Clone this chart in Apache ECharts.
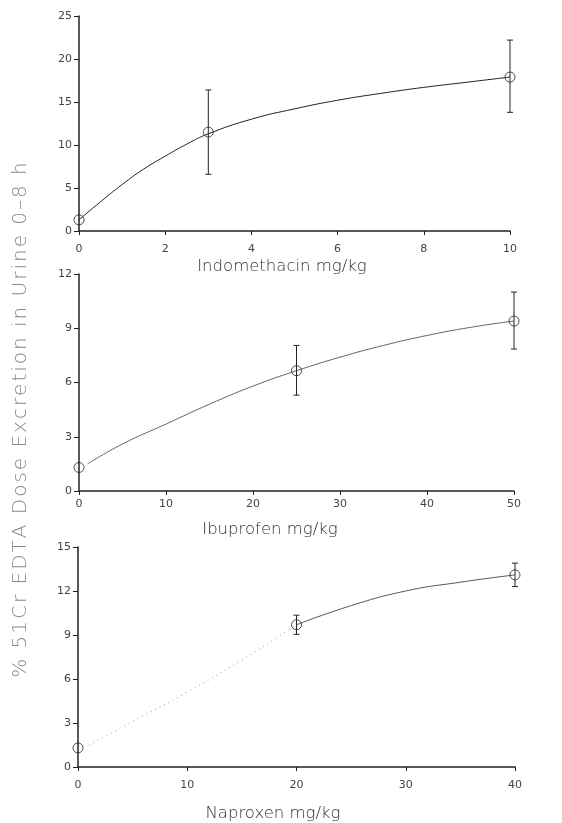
<!DOCTYPE html>
<html>
<head>
<meta charset="utf-8">
<script src="https://cdn.jsdelivr.net/npm/echarts@6/dist/echarts.min.js"></script>
<style>
  html, body { margin: 0; padding: 0; background: #fff; }
  #main { width: 562px; height: 823px; }
</style>
</head>
<body>
<div id="main"></div>
<script>
// Indomethacin panel
var indoDose = [0, 3, 10];
var indoMean = [1.3, 11.5, 17.9];
var indoLow = [null, 6.6, 13.8];
var indoHigh = [null, 16.4, 22.2];
var indoFitX = [0, 0.5, 1, 1.5, 2, 2.5, 3, 4, 5, 6, 7, 8, 9, 10];
var indoFitY = [1.3, 3.4, 5.4, 7.2, 8.7, 10.1, 11.3, 13.0, 14.2, 15.2, 16.0, 16.7, 17.3, 17.9];

// Ibuprofen panel
var ibuDose = [0, 25, 50];
var ibuMean = [1.3, 6.65, 9.4];
var ibuLow = [null, 5.3, 7.85];
var ibuHigh = [null, 8.05, 11.0];
var ibuFitX = [1, 5, 10, 15, 20, 25, 30, 35, 40, 45, 50];
var ibuFitY = [1.5, 2.6, 3.7, 4.8, 5.8, 6.65, 7.4, 8.05, 8.6, 9.05, 9.4];

// Naproxen panel
var napDose = [0, 20, 40];
var napMean = [1.3, 9.7, 13.1];
var napLow = [null, 9.05, 12.3];
var napHigh = [null, 10.35, 13.9];
var napFitX1 = [1, 5, 10, 15, 20];
var napFitY1 = [1.5, 3.1, 5.1, 7.3, 9.7];
var napFitX2 = [20, 25, 30, 35, 40];
var napFitY2 = [9.7, 11.0, 12.0, 12.6, 13.1];

var xNames = ['Indomethacin mg/kg', 'Ibuprofen mg/kg', 'Naproxen mg/kg'];
var yTitle = '% 51Cr EDTA Dose Excretion in Urine 0\u20138 h';

var font = 'DejaVu Sans';

function zip(a, b) {
  var out = [];
  for (var i = 0; i < a.length; i++) out.push([a[i], b[i]]);
  return out;
}
function bars(x, lo, hi) {
  var out = [];
  for (var i = 0; i < x.length; i++) {
    if (lo[i] != null) out.push([x[i], lo[i], hi[i]]);
  }
  return out;
}
// spread the letters a bit, the scan's lettering is wide
function spaced(s) {
  return s.split('').join('\u200A');
}

function errorRender(params, api) {
  var x = api.value(0);
  var lo = api.coord([x, api.value(1)]);
  var hi = api.coord([x, api.value(2)]);
  var w = 3;
  var st = { stroke: '#222', lineWidth: 1 };
  return {
    type: 'group',
    children: [
      { type: 'line', shape: { x1: lo[0], y1: lo[1], x2: hi[0], y2: hi[1] }, style: st },
      { type: 'line', shape: { x1: lo[0] - w, y1: lo[1], x2: lo[0] + w, y2: lo[1] }, style: st },
      { type: 'line', shape: { x1: hi[0] - w, y1: hi[1], x2: hi[0] + w, y2: hi[1] }, style: st }
    ]
  };
}

function xAxis(idx, max, interval, nameGap, margin, shift) {
  return {
    gridIndex: idx, type: 'value', min: 0, max: max, interval: interval,
    name: xNames[idx], nameLocation: 'middle', nameGap: nameGap,
    nameTextStyle: {
      fontFamily: font, fontSize: 16.5, color: '#333', fontWeight: 300,
      padding: [0, shift, 0, 0]
    },
    axisLine: { onZero: false, lineStyle: { color: '#222', width: 1.5 } },
    axisTick: { inside: false, length: 4, lineStyle: { color: '#222' } },
    axisLabel: { fontFamily: font, fontSize: 11, color: '#444', margin: margin },
    splitLine: { show: false }
  };
}
function yAxis(idx, max, interval) {
  return {
    gridIndex: idx, type: 'value', min: 0, max: max, interval: interval,
    axisLine: { show: true, lineStyle: { color: '#222', width: 1.5 } },
    axisTick: { show: true, length: 5, lineStyle: { color: '#222' } },
    axisLabel: { fontFamily: font, fontSize: 11, color: '#444', margin: 7 },
    splitLine: { show: false }
  };
}

function marks(idx, dose, mean) {
  return {
    type: 'scatter', xAxisIndex: idx, yAxisIndex: idx, z: 5,
    symbol: 'circle', symbolSize: 10,
    itemStyle: { color: 'rgba(255,255,255,0)', borderColor: '#222', borderWidth: 1 },
    data: zip(dose, mean)
  };
}
function fit(idx, xs, ys, color, type) {
  return {
    type: 'line', xAxisIndex: idx, yAxisIndex: idx, smooth: true,
    symbol: 'none',
    lineStyle: { color: color, width: 1, type: type },
    data: zip(xs, ys)
  };
}
function errs(idx, x, lo, hi) {
  return {
    type: 'custom', xAxisIndex: idx, yAxisIndex: idx, z: 4,
    renderItem: errorRender, data: bars(x, lo, hi)
  };
}

var chart = echarts.init(document.getElementById('main'));
chart.setOption({
  animation: false,
  backgroundColor: '#fff',
  grid: [
    { left: 79, right: 52, top: 16, height: 215 },
    { left: 79, right: 48, top: 274, height: 217 },
    { left: 78, right: 47, top: 547, height: 228 }
  ],
  xAxis: [
    xAxis(0, 10, 2, 27, 13, 25),
    xAxis(1, 50, 10, 30, 8, 53),
    xAxis(2, 40, 10, 38, 13, 47)
  ],
  yAxis: [
    yAxis(0, 25, 5),
    yAxis(1, 12, 3),
    yAxis(2, 15, 3)
  ],
  graphic: [{
    type: 'text', x: 21, y: 420, rotation: Math.PI / 2,
    style: {
      text: spaced(yTitle), fontFamily: font, fontSize: 20, fontWeight: 200,
      fill: '#8a8a8a', align: 'center', verticalAlign: 'middle'
    }
  }],
  series: [
    fit(0, indoFitX, indoFitY, '#222', 'solid'),
    errs(0, indoDose, indoLow, indoHigh),
    marks(0, indoDose, indoMean),
    fit(1, ibuFitX, ibuFitY, '#666', 'solid'),
    errs(1, ibuDose, ibuLow, ibuHigh),
    marks(1, ibuDose, ibuMean),
    fit(2, napFitX1, napFitY1, '#999', [1, 4]),
    fit(2, napFitX2, napFitY2, '#555', 'solid'),
    errs(2, napDose, napLow, napHigh),
    marks(2, napDose, napMean)
  ]
});
</script>
</body>
</html>
